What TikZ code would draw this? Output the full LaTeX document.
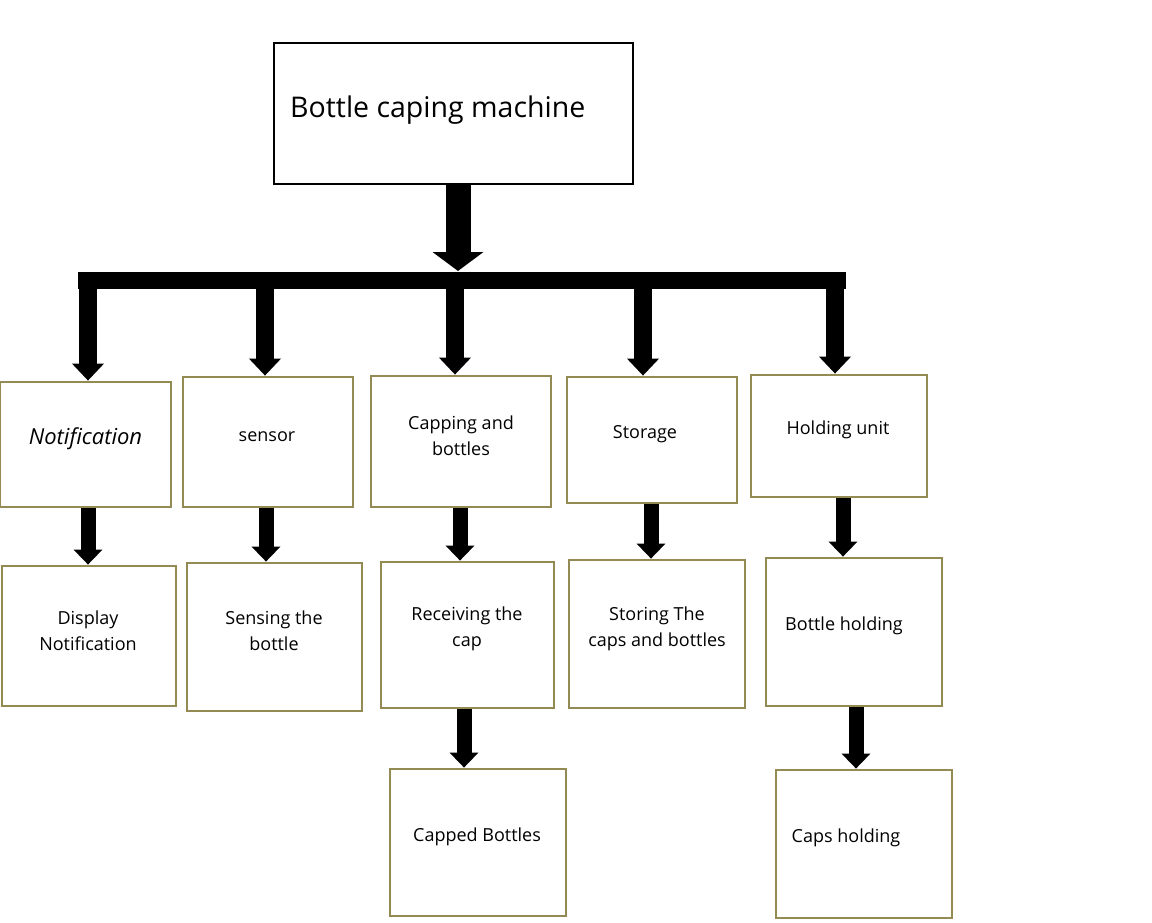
\documentclass[tikz,border=0pt]{standalone}
\usepackage{fontspec}
\setmainfont{Open Sans}
\usetikzlibrary{arrows.meta}
\definecolor{olive}{HTML}{948A54}
\tikzset{
  box/.style={draw=olive, line width=2.8pt, fill=white, inner sep=0pt},
  txt/.style={font=\fontsize{18}{26}\selectfont, align=center, inner sep=0pt},
  arrA/.style={line width=18pt, -{Triangle[width=31pt,length=17pt]}},
  arrB/.style={line width=15pt, -{Triangle[width=28pt,length=15pt]}},
  arrM/.style={line width=25pt, -{Triangle[width=50pt,length=19pt]}},
}
\begin{document}
\begin{tikzpicture}[x=1pt,y=-1pt]
\useasboundingbox (0,0) rectangle (1152,922);
% top box
\node[draw=black, line width=2pt, minimum width=359pt, minimum height=141pt, inner sep=0pt] (top) at (453.5,113.5) {};
\node[anchor=west, font=\fontsize{28.5}{32}\selectfont, inner sep=0pt] (toptxt) at (290,110) {Bottle caping machine};
% bar
\coordinate (barL) at (78,280);
\coordinate (barR) at (846,280);
\draw[line width=17pt] (barL) -- (barR);
\coordinate (barM) at (458,271);
\draw[arrM] (top.south -| barM) -- (barM);
% level 1 boxes
\node[box, minimum width=171pt, minimum height=125pt] (b1) at (85.5,444.5) {};
\node[txt, font=\fontsize{22}{26}\selectfont\itshape] (t1) at (85.5,439) {Notification};
\node[box, minimum width=170pt, minimum height=130pt] (b2) at (268,442) {};
\node[txt] (t2) at (267,437) {sensor};
\node[box, minimum width=180pt, minimum height=131pt] (b3) at (461,441.5) {};
\node[txt] (t3) at (461,435.5) {Capping and\\bottles};
\node[box, minimum width=170pt, minimum height=126pt] (b4) at (652,440) {};
\node[txt] (t4) at (645,434) {Storage};
\node[box, minimum width=176pt, minimum height=122pt] (b5) at (839,436) {};
\node[txt] (t5) at (838,430) {Holding unit};
% level 1 arrows
\foreach \x/\b in {88/b1,265/b2,455/b3,643/b4,835/b5}{
  \draw[arrA] (\x,285) -- (\b.north -| \x,0);
}
% level 2 boxes
\node[box, minimum width=174pt, minimum height=140pt] (c1) at (89,636) {};
\node[txt] (u1) at (88,630.5) {Display\\Notification};
\node[box, minimum width=175pt, minimum height=148pt] (c2) at (274.5,637) {};
\node[txt] (u2) at (274,631) {Sensing the\\bottle};
\node[box, minimum width=173pt, minimum height=146pt] (c3) at (467.5,635) {};
\node[txt] (u3) at (467,629) {Receiving the\\cap};
\node[box, minimum width=176pt, minimum height=148pt] (c4) at (657,634) {};
\node[txt] (u4) at (657,629) {Storing The\\caps and bottles};
\node[box, minimum width=176pt, minimum height=148pt] (c5) at (854,632) {};
\node[txt] (u5) at (844,626) {Bottle holding};
% level 2 arrows
\draw[arrB] (b1.south -| 88,0) -- (c1.north -| 88,0);
\draw[arrB] (b2.south -| 266,0) -- (c2.north -| 266,0);
\draw[arrB] (b3.south -| 460,0) -- (c3.north -| 460,0);
\draw[arrB] (b4.south -| 651,0) -- (c4.north -| 651,0);
\draw[arrB] (b5.south -| 843,0) -- (c5.north -| 843,0);
% level 3 boxes
\node[box, minimum width=176pt, minimum height=147pt] (d3) at (478,842.5) {};
\node[txt] (v3) at (477,837) {Capped Bottles};
\node[box, minimum width=176pt, minimum height=148pt] (d5) at (864,844) {};
\node[txt] (v5) at (846,838) {Caps holding};
% level 3 arrows
\draw[arrB] (c3.south -| 464,0) -- (d3.north -| 464,0);
\draw[arrB] (c5.south -| 856,0) -- (d5.north -| 856,0);
\end{tikzpicture}
\end{document}
